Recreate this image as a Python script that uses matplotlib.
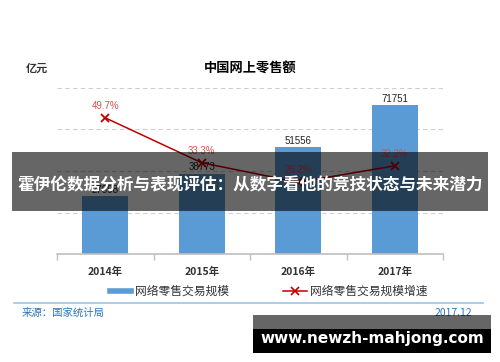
import matplotlib
matplotlib.use("Agg")
import matplotlib.pyplot as plt
import matplotlib.patches as patches
from matplotlib.lines import Line2D

plt.rcParams['font.family'] = ['Noto Sans CJK SC', 'DejaVu Sans']

# Data
years = ["2014年", "2015年", "2016年", "2017年"]
sales = [27898, 38773, 51556, 71751]
growth = [49.7, 33.3, 26.2, 32.2]

bar_color = "#5b9bd5"
line_color = "#c00000"
pct_color = "#e04b4b"
num_font = ["Liberation Sans", "DejaVu Sans"]

fig = plt.figure(figsize=(5, 3.62), dpi=100)
ax = fig.add_axes([0.114, 0.2983, 0.772, 0.4587])

x = list(range(len(years)))
ax.bar(x, sales, width=0.48, color=bar_color, zorder=2)
ax.set_xlim(-0.5, 3.5)
ax.set_ylim(0, 80000)
ax.set_yticks([20000, 40000, 60000, 80000])
ax.yaxis.grid(True, linestyle=(0, (4, 3)), color="#cfcfcf", linewidth=0.8, zorder=0)
for s in ["top", "right", "left"]:
    ax.spines[s].set_visible(False)
ax.spines["bottom"].set_color("#bfbfbf")
ax.spines["bottom"].set_linewidth(1.2)
ax.set_xticks([-0.5, 0.5, 1.5, 2.5, 3.5])
ax.set_xticklabels([])
ax.tick_params(axis="x", direction="out", length=4, color="#bfbfbf", width=1)
for xi, lab in zip(x, years):
    ax.text(xi, -0.11, lab, transform=ax.get_xaxis_transform(), ha="center", va="center",
            fontsize=7.5, fontweight="bold", color="#333333")
for xi, v in zip(x, sales):
    ax.text(xi, v + 500, str(v), ha="center", va="bottom", fontsize=7, color="#222222",
            family=num_font, zorder=3)

ax2 = ax.twinx()
ax2.set_ylim(0, 60.6)
ax2.axis("off")
ax.tick_params(axis="y", left=False, right=False, labelleft=False, labelright=False)
ax2.plot(x, growth, color=line_color, linewidth=1.1, marker="x", markersize=6,
         markeredgewidth=1.3, zorder=4)
for xi, g in zip(x, growth):
    ax2.text(xi, g + 2.6, f"{g}%", ha="center", va="bottom", fontsize=7, color=pct_color,
             family=num_font)

# Titles
fig.text(0.5, 1 - 68 / 362, "中国网上零售额", ha="center", va="center", fontsize=9.5, fontweight="bold")
fig.text(37 / 500, 1 - 68 / 362, "亿元", ha="center", va="center", fontsize=8, fontweight="bold", color="#333333")

# Legend
ly = 1 - 291 / 362
fig.add_artist(Line2D([110 / 500, 131 / 500], [ly, ly], color=bar_color, linewidth=4))
fig.text(135 / 500, ly, "网络零售交易规模", ha="left", va="center", fontsize=8.5, color="#333333")
fig.add_artist(Line2D([283 / 500, 307 / 500], [ly, ly], color=line_color, linewidth=1.1))
fig.add_artist(Line2D([295 / 500], [ly], color=line_color, marker="x", markersize=6, markeredgewidth=1.2))
fig.text(310 / 500, ly, "网络零售交易规模增速", ha="left", va="center", fontsize=8.5, color="#333333")

# Footer
fig.add_artist(Line2D([14 / 500, 483 / 500], [1 - 303 / 362] * 2, color="#9dc3e6", linewidth=1.2))
fig.text(22 / 500, 1 - 313 / 362, "来源：国家统计局", ha="left", va="center", fontsize=7.5, color="#2e75b6")
fig.text(472 / 500, 1 - 313 / 362, "2017.12", ha="right", va="center", fontsize=7.5, color="#2e75b6")

# Overlay banner
fig.add_artist(patches.Rectangle((12 / 500, 1 - 211 / 362), 476 / 500, 59 / 362,
                                 transform=fig.transFigure, facecolor="black", alpha=0.6,
                                 edgecolor="none", zorder=10))
fig.text(0.5, 1 - 185 / 362, "霍伊伦数据分析与表现评估：从数字看他的竞技状态与未来潜力",
         ha="center", va="center", fontsize=12, fontweight="bold", color="white", zorder=11)

# Watermark
fig.add_artist(patches.Rectangle((253 / 500, 1 - 353 / 362), 238 / 500, 38 / 362,
                                 transform=fig.transFigure, facecolor="black", alpha=0.6,
                                 edgecolor="none", zorder=10))
fig.add_artist(patches.Rectangle((253 / 500, 1 - 353 / 362), 238 / 500, 24 / 362,
                                 transform=fig.transFigure, facecolor="black",
                                 edgecolor="none", zorder=10))
fig.text(372 / 500, 1 - 338 / 362, "www.newzh-mahjong.com", ha="center", va="center",
         fontsize=11, fontweight="bold", color="white", family="DejaVu Sans", zorder=11)

fig.savefig("out.png", dpi=100)
